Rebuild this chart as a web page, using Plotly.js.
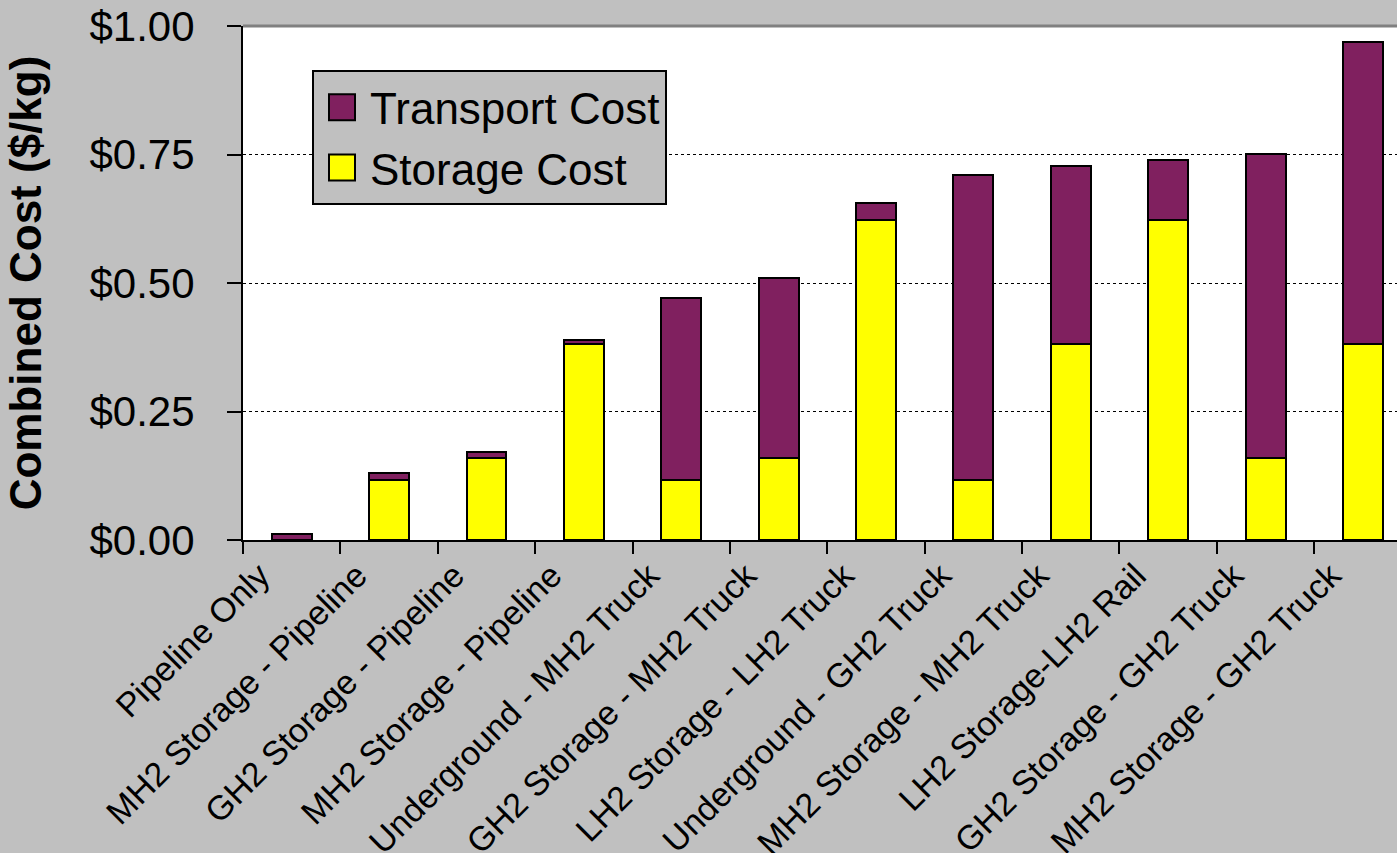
<!DOCTYPE html>
<html>
<head>
<meta charset="utf-8">
<script src="https://cdn.plot.ly/plotly-3.0.1.min.js"></script>
<style>html,body{margin:0;padding:0;background:#C0C0C0;}</style>
</head>
<body>
<div id="chart" style="width:1397px;height:853px;"></div>
<script>
const categories = [
  "Pipeline Only",
  "MH2 Storage - Pipeline",
  "GH2 Storage - Pipeline",
  "MH2 Storage - Pipeline",
  "Underground - MH2 Truck",
  "GH2 Storage - MH2 Truck",
  "LH2 Storage - LH2 Truck",
  "Underground - GH2 Truck",
  "MH2 Storage - MH2 Truck",
  "LH2 Storage-LH2 Rail",
  "GH2 Storage - GH2 Truck",
  "MH2 Storage - GH2 Truck"
];
// unique x keys so repeated label texts stay separate categories
const xKeys = categories.map((c, i) => i);
const storageCost   = [0.000, 0.117, 0.159, 0.381, 0.117, 0.159, 0.623, 0.117, 0.381, 0.623, 0.159, 0.381];
const transportCost = [0.012, 0.013, 0.013, 0.008, 0.354, 0.351, 0.032, 0.593, 0.347, 0.116, 0.592, 0.588];
const yTicks = [0, 0.25, 0.5, 0.75, 1.0];

const FONT = "Liberation Sans, Arial, sans-serif";

const traces = [
  {
    type: "bar", name: "Storage Cost", x: xKeys, y: storageCost,
    width: 0.41, legendgroup: "s", legendrank: 2,
    marker: { color: "#FFFF00", line: { color: "#000000", width: 2 } }
  },
  {
    type: "bar", name: "Transport Cost", x: xKeys, y: transportCost,
    width: 0.41, legendgroup: "t", legendrank: 1,
    marker: { color: "#80205F", line: { color: "#000000", width: 2 } }
  }
];

const layout = {
  width: 1397, height: 853, autosize: false,
  paper_bgcolor: "#C0C0C0", plot_bgcolor: "#FFFFFF",
  margin: { l: 243, r: 0, t: 26, b: 313 },
  barmode: "stack",
  font: { family: FONT, color: "#000000" },
  showlegend: true,
  legend: {
    x: 0.0598, y: 0.914, xanchor: "left", yanchor: "top",
    bgcolor: "#C0C0C0", bordercolor: "#000000", borderwidth: 2,
    font: { family: FONT, size: 44, color: "#000000" },
    traceorder: "grouped", tracegroupgap: 0, itemwidth: 46
  },
  xaxis: {
    type: "category", range: [-0.5, 11.35],
    tickmode: "array", tickvals: xKeys, ticktext: categories,
    tickangle: -45, tickson: "boundaries",
    ticks: "outside", ticklen: 12, tickwidth: 2, tickcolor: "#000000",
    ticklabelshift: -32,
    showline: true, linecolor: "#000000", linewidth: 2,
    showgrid: false, zeroline: false,
    tickfont: { family: FONT, size: 34, color: "#000000" }
  },
  yaxis: {
    range: [0, 1], tickmode: "array", tickvals: yTicks,
    tickformat: "$.2f",
    ticks: "outside", ticklen: 14, tickwidth: 2, tickcolor: "#000000",
    ticklabelstandoff: 24,
    showline: true, linecolor: "#000000", linewidth: 2,
    showgrid: true, gridcolor: "#000000", gridwidth: 1, griddash: "dot",
    zeroline: false,
    tickfont: { family: FONT, size: 42, color: "#000000" },
    title: { text: "<b>Combined Cost ($/kg)</b>", standoff: 34,
             font: { family: FONT, size: 44, color: "#000000" } }
  },
  shapes: [
    { type: "line", xref: "paper", yref: "paper", x0: 0, x1: 1, y0: 1, y1: 1,
      line: { color: "#808080", width: 3 } }
  ]
};

function bigSymbols() {
  document.querySelectorAll(".legend .legendpoints path").forEach(p => {
    p.setAttribute("d", "M13,13H-13V-13H13Z");
  });
}

Plotly.newPlot("chart", traces, layout, { staticPlot: true, displayModeBar: false })
  .then(gd => { bigSymbols(); gd.on && gd.on("plotly_afterplot", bigSymbols); });
</script>
</body>
</html>
